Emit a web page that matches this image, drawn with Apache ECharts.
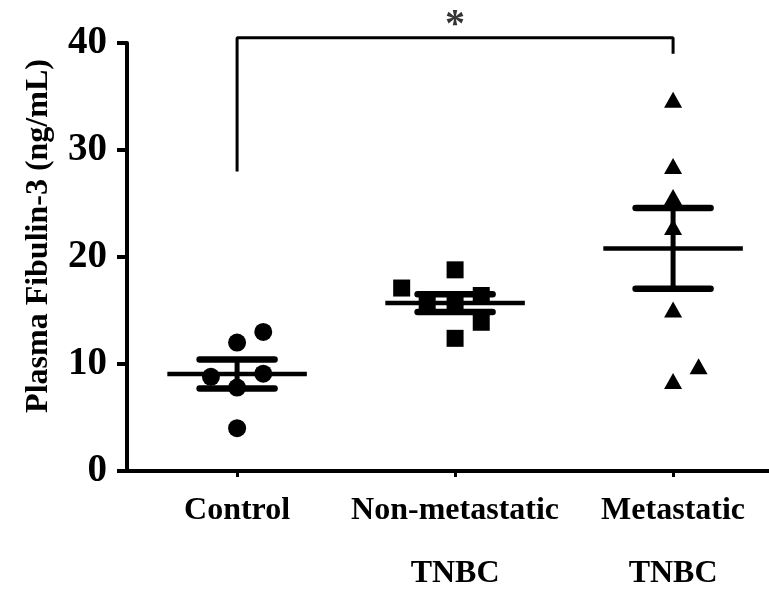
<!DOCTYPE html>
<html>
<head>
<meta charset="utf-8">
<script src="https://cdn.jsdelivr.net/npm/echarts@6/dist/echarts.min.js"></script>
<style>
html,body{margin:0;padding:0;background:#fff;}
#chart{width:769px;height:590px;}
</style>
</head>
<body>
<div id="chart"></div>
<script>
// ---- data ----
const categories = ['Control', 'Non-metastatic\nTNBC', 'Metastatic\nTNBC'];
const yTicks = [0, 10, 20, 30, 40];

const controlValues = [13.0, 12.0, 8.8, 9.1, 7.8, 4.0];
const controlJitter = [0.12, 0, -0.12, 0.12, 0, 0];

const nonMetValues = [17.1, 18.8, 12.4, 13.9, 16.4, 15.7, 15.7];
const nonMetJitter = [-0.245, 0, 0, 0.12, 0.12, -0.128, 0];

const metValues = [34.7, 28.5, 25.6, 22.8, 15.1, 9.8, 8.4];
const metJitter = [0, 0, 0, 0, 0, 0.117, 0];

const groupMeans = [9.07, 15.7, 20.8];
const groupSEM = [1.36, 0.83, 3.77];

const sigLabel = '*';
const sigFrom = 0, sigTo = 2;
const sigLeftBottom = 28.0, sigRightBottom = 39.0, sigTop = 40.5, sigStarY = 41.6;

// ---- build ----
const font = "'Liberation Serif','Times New Roman',serif";
function pts(vals, jit, idx) { return vals.map((v, i) => [idx + jit[i], v]); }

const chart = echarts.init(document.getElementById('chart'), null, {renderer: 'canvas'});
chart.setOption({
  backgroundColor: '#ffffff',
  animation: false,
  grid: {left: 127, right: 0, top: 43, bottom: 119, containLabel: false, outerBoundsMode: 'none'},
  xAxis: {
    type: 'value', min: -0.505, max: 2.44,
    splitLine: {show: false},
    axisLine: {show: true, onZero: false, lineStyle: {color: '#000', width: 4}},
    axisTick: {show: true, customValues: [0, 1, 2], length: 6, lineStyle: {color: '#000', width: 3}},
    axisLabel: {
      customValues: [0, 1, 2],
      formatter: v => categories[Math.round(v)],
      color: '#000', fontFamily: font, fontWeight: 'bold', fontSize: 32,
      lineHeight: 63, margin: 8, verticalAlign: 'top'
    }
  },
  yAxis: {
    type: 'value', min: yTicks[0], max: yTicks[yTicks.length - 1], interval: 10,
    splitLine: {show: false},
    axisLine: {show: true, onZero: false, lineStyle: {color: '#000', width: 4}},
    axisTick: {show: true, length: 10, lineStyle: {color: '#000', width: 4}},
    axisLabel: {color: '#000', fontFamily: font, fontWeight: 'bold', fontSize: 39, margin: 20},
    name: 'Plasma Fibulin-3 (ng/mL)',
    nameLocation: 'middle', nameGap: 72,
    nameTextStyle: {color: '#000', fontFamily: font, fontWeight: 'bold', fontSize: 32, padding: [0, 0, 0, 42]}
  },
  series: [
    {type: 'scatter', symbol: 'circle', symbolSize: 18, itemStyle: {color: '#000', opacity: 1}, data: pts(controlValues, controlJitter, 0)},
    {type: 'scatter', symbol: 'rect', symbolSize: 17, itemStyle: {color: '#000', opacity: 1}, data: pts(nonMetValues, nonMetJitter, 1)},
    {type: 'scatter', symbol: 'triangle', symbolSize: [18, 16], itemStyle: {color: '#000', opacity: 1}, data: pts(metValues, metJitter, 2)},
    {
      type: 'custom', z: 5,
      data: groupMeans.map((m, i) => [i, m, groupSEM[i]]),
      renderItem: function (params, api) {
        const x = api.value(0), m = api.value(1), s = api.value(2);
        const c = api.coord([x, m]);
        const hi = api.coord([x, m + s]);
        const lo = api.coord([x, m - s]);
        const hm = api.size([0.32, 0])[0];
        const hc = api.size([0.172, 0])[0];
        const st = {stroke: '#000', fill: null};
        return {
          type: 'group',
          children: [
            {type: 'line', shape: {x1: c[0] - hm, y1: c[1], x2: c[0] + hm, y2: c[1]}, style: Object.assign({lineWidth: 4.5}, st)},
            {type: 'line', shape: {x1: c[0], y1: hi[1], x2: c[0], y2: lo[1]}, style: Object.assign({lineWidth: 5}, st)},
            {type: 'line', shape: {x1: c[0] - hc, y1: hi[1], x2: c[0] + hc, y2: hi[1]}, style: Object.assign({lineWidth: 6.5, lineCap: 'round'}, st)},
            {type: 'line', shape: {x1: c[0] - hc, y1: lo[1], x2: c[0] + hc, y2: lo[1]}, style: Object.assign({lineWidth: 6.5, lineCap: 'round'}, st)}
          ]
        };
      }
    },
    {
      type: 'line', clip: false, symbol: 'none', silent: true,
      lineStyle: {color: '#000', width: 3},
      data: [[sigFrom, sigLeftBottom], [sigFrom, sigTop], [sigTo, sigTop], [sigTo, sigRightBottom]]
    },
    {
      type: 'scatter', clip: false, symbolSize: 1, itemStyle: {color: 'rgba(0,0,0,0)'},
      label: {show: true, position: 'inside', formatter: sigLabel, color: '#000', fontFamily: font, fontWeight: 'bold', fontSize: 40},
      data: [[(sigFrom + sigTo) / 2, sigStarY]]
    }
  ]
});
</script>
</body>
</html>
